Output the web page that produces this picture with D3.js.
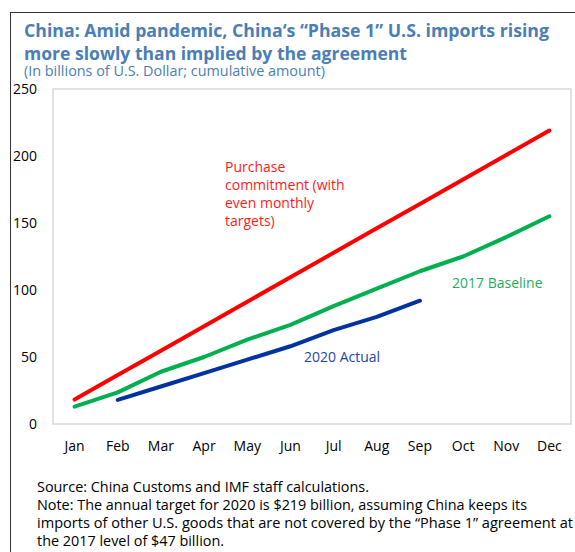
<!DOCTYPE html>
<html><head><meta charset="utf-8">
<script src="https://cdn.jsdelivr.net/npm/d3@7"></script>
<style>body{margin:0;background:#fff}text{font-family:"Open Sans","Noto Sans",sans-serif}</style>
</head><body>
<svg id="c" width="575" height="552"></svg>
<script>
const months = ["Jan","Feb","Mar","Apr","May","Jun","Jul","Aug","Sep","Oct","Nov","Dec"];
const purchase = [18.25,36.5,54.75,73,91.25,109.5,127.75,146,164.25,182.5,200.75,219];
const baseline2017 = [12.9,23.6,39,50,63,74,88,101,114,125,139.5,155];
const actual2020 = [null,18,28,38,48,58,70,80,92,null,null,null];
const yTicks = [0,50,100,150,200,250];

const svg = d3.select("#c");
// outer frame
svg.append("rect").attr("x",10.5).attr("y",12.5).attr("width",600).attr("height",600)
  .attr("fill","none").attr("stroke","#333").attr("stroke-width",1);

const L=53,R=571,T=89,B=424;
const x = d3.scaleBand().domain(months).range([L,R]);
const y = d3.scaleLinear().domain([0,250]).range([B,T]);

svg.append("rect").attr("x",L).attr("y",T).attr("width",R-L).attr("height",B-T)
  .attr("fill","none").attr("stroke","#d9d9d9").attr("stroke-width",1.5);

const blue="#4a7eb5";
function fit(sel,w){ return sel.attr("textLength",w).attr("lengthAdjust","spacingAndGlyphs"); }
fit(svg.append("text").attr("x",24).attr("y",37).attr("fill",blue).attr("font-weight","bold").attr("font-size",17.7)
  .text("China: Amid pandemic, China\u2018s \u201cPhase 1\u201d U.S. imports rising"),525);
fit(svg.append("text").attr("x",24).attr("y",60).attr("fill",blue).attr("font-weight","bold").attr("font-size",17.7)
  .text("more slowly than implied by the agreement"),383);
fit(svg.append("text").attr("x",24).attr("y",75.5).attr("fill",blue).attr("font-size",14.3)
  .text("(In billions of U.S. Dollar; cumulative amount)"),301);

const yAxis = d3.axisLeft(y).tickValues(yTicks).tickSize(0).tickPadding(0);
const gy = svg.append("g").attr("transform","translate(37,0)").call(yAxis);
gy.select(".domain").remove();
gy.selectAll("text").attr("font-size",14).attr("fill","#000").attr("font-family","'Open Sans',sans-serif");

const xAxis = d3.axisBottom(x).tickSize(0).tickPadding(0);
const gx = svg.append("g").attr("transform","translate(0,441)").call(xAxis);
gx.select(".domain").remove();
gx.selectAll("text").attr("font-size",14).attr("fill","#000").attr("font-family","'Open Sans',sans-serif");

const line = d3.line().defined(d=>d!=null).x((d,i)=>x(months[i])+x.bandwidth()/2).y(d=>y(d));
function draw(data,color){
  svg.append("path").datum(data).attr("d",line).attr("fill","none").attr("stroke",color)
    .attr("stroke-width",4).attr("stroke-linecap","round").attr("stroke-linejoin","round");
}
draw(purchase,"#ff0000");
draw(baseline2017,"#00b050");
draw(actual2020,"#0033a0");

const red = svg.append("text").attr("fill","#ff1a1a").attr("font-size",14);
["Purchase","commitment (with","even monthly","targets)"].forEach((t,i)=>
  red.append("tspan").attr("x",225).attr("y",172+i*18).text(t));
svg.append("text").attr("x",452).attr("y",288).attr("fill","#1ab05a").attr("font-size",14).text("2017 Baseline");
svg.append("text").attr("x",304).attr("y",362).attr("fill","#1f45a8").attr("font-size",14).text("2020 Actual");

const notes = ["Source: China Customs and IMF staff calculations.",
 "Note: The annual target for 2020 is $219 billion, assuming China keeps its",
 "imports of other U.S. goods that are not covered by the \u201cPhase 1\u201d agreement at",
 "the 2017 level of $47 billion."];
notes.forEach((t,i)=>{
  const tx = svg.append("text").attr("x",37).attr("y",492+i*18).attr("font-size",14.4).attr("fill","#000").text(t);
  if(i===2) fit(tx,536);
});
</script></body></html>
